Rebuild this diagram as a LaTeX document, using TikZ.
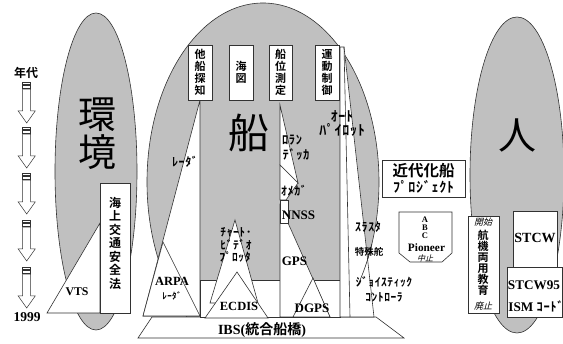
\documentclass[tikz,border=0pt]{standalone}
\usepackage{fontspec}
\newfontfamily\jp[BoldFont={Noto Sans CJK JP Bold}]{Noto Sans CJK JP}
\newfontfamily\jpi[FakeSlant=0.25,BoldFont={Noto Sans CJK JP Bold}]{Noto Sans CJK JP}
\newfontfamily\hk[LetterSpace=5,BoldFont={Noto Sans CJK JP Bold}]{Noto Sans CJK JP}
\newfontfamily\tnr{Liberation Serif}
\definecolor{shade}{RGB}{192,192,192}
\definecolor{edge}{RGB}{50,50,50}
\begin{document}
\begin{tikzpicture}[x=1pt,y=-1pt,
  ol/.style={draw=edge,line width=0.6pt},
  wf/.style={ol,fill=white},
  gf/.style={ol,fill=shade},
  arr/.style={draw=edge,line width=0.5pt,fill=white},
  t/.style={inner sep=0pt,align=center},
  big/.style={t,font=\jp\fontsize{#1}{#1}\selectfont},
  kk/.style={t,font=\hk\bfseries\fontsize{#1}{#1}\selectfont},
  jb/.style={t,font=\jp\bfseries\fontsize{#1}{#1}\selectfont},
  rom/.style={t,font=\tnr\bfseries\fontsize{#1}{#1}\selectfont},
  vtext/.style={t,font=\jp\bfseries\fontsize{11}{12}\selectfont},
  vbox/.style={wf,minimum width=24pt,minimum height=55pt,inner sep=0pt}
]
\useasboundingbox (0,0) rectangle (563,344);
\fill[white] (0,0) rectangle (563,344);

% --- ellipses ---
\draw[gf] (96,171.5) ellipse [x radius=41, y radius=158.5];
\begin{scope}
  \clip (0,0) rectangle (563,338);
  \draw[gf] (263,182) ellipse [x radius=116, y radius=179];
\end{scope}
\draw[gf] (517,175) ellipse [x radius=47, y radius=158];

% --- timeline arrows ---
\foreach \tp in {82,127,173,220,267}{
  \draw[arr] (22.7,\tp) rectangle (30.7,\tp+2.2);
  \draw[arr] (22.7,\tp+3.4) rectangle (30.7,\tp+6);
  \draw[arr] (22.7,\tp+7.2) -- (22.7,\tp+29) -- (18.2,\tp+29) -- (26.7,\tp+41)
     -- (35.2,\tp+29) -- (30.7,\tp+29) -- (30.7,\tp+7.2) -- cycle;
}
\node[jb=12] (nendai) at (26,73) {年代};
\node[rom=13.5] (y1999) at (27,317) {1999};

% --- environment ---
\node[big=38] (kan) at (97,115) {環};
\node[big=38] (kyo) at (97,152) {境};
\draw[wf] (100,223) -- (47,313) -- (100,313) -- cycle;
\node[wf,minimum width=30pt,minimum height=130pt,inner sep=0pt] (lawbox) at (115,248) {};
\node[t,font=\jp\bfseries\fontsize{12}{13.5}\selectfont] (law) at (115,243) {海\\上\\交\\通\\安\\全\\法};
\node[rom=11.8] (vts) at (77,292) {VTS};

% --- IBS base ---
\draw[wf] (152,317) -- (376,317) -- (404,338) -- (138,338) -- cycle;

% --- column 1 : radar ---
\draw[wf] (200,100) -- (143,316) -- (200,316) -- cycle;
\draw[wf] (163,242) -- (143,316) -- (200,316) -- cycle;

% --- lower white block ---
\draw[wf] (200,280) rectangle (340,317);

% --- column 2 : chart ---
\draw[wf] (235,220) -- (210,303) -- (258,303) -- cycle;
\draw[wf] (237,272) -- (205,318) -- (268,318) -- cycle;

% --- column 3 : position ---
\draw[wf] (280,105) -- (280,165) -- (298,183) -- cycle;
\draw[wf] (280,165) -- (298,183) -- (286,200) -- (280,200) -- cycle;
\draw[wf] (280,205) -- (280,317) -- (330,317) -- cycle;
\draw[wf] (280,200) rectangle (288,223);
\draw[wf] (313,278) -- (293,317) -- (330,317) -- cycle;

% --- column 4 : motion control ---
\draw[wf] (340,47) -- (344,47) -- (374,317) -- (340,317) -- cycle;
\draw[ol] (344,47) -- (350,317);
\begin{scope}
  \clip (355,245) rectangle (380,285);
  \draw[ol] (263,182) ellipse [x radius=116, y radius=179];
\end{scope}

% --- top boxes ---
\node[vbox] (b1) at (200,72.5) {};
\node[vbox] (b2) at (241,72.5) {};
\node[vbox,minimum width=23pt] (b3) at (280.5,72.5) {};
\node[vbox] (b4) at (327,72.5) {};
\node[vtext] (b1t) at (b1) {他\\船\\探\\知};
\node[vtext] (b2t) at (b2) {海\\図};
\node[vtext] (b3t) at (b3) {船\\位\\測\\定};
\node[vtext] (b4t) at (b4) {運\\動\\制\\御};

\node[big=41] (fune) at (249,133) {船};

% labels column 1
\node[kk=12] (radar1) at (185,162) {ﾚｰﾀﾞ};
\node[rom=12.5] (arpa) at (172,281) {ARPA};
\node[kk=9] (radar2) at (172,296) {ﾚｰﾀﾞ};
% column 2
\node[kk=11.5] (chart1) at (236,232) {ﾁｬｰﾄ･};
\node[kk=11.5] (chart2) at (236,245) {ﾋﾞﾃﾞｵ};
\node[kk=11.5] (chart3) at (235,257) {ﾌﾟﾛｯﾀ};
\node[rom=12.5] (ecdis) at (239,306) {ECDIS};
% column 3
\node[kk=12.5] (loran) at (292,140) {ﾛﾗﾝ};
\node[kk=12.5] (decca) at (296,155) {ﾃﾞｯｶ};
\node[kk=12] (omega) at (294,191) {ｵﾒｶﾞ};
\node[rom=13] (nnss) at (298.5,215) {NNSS};
\node[rom=13] (gps) at (294.5,261) {GPS};
\node[rom=13] (dgps) at (312,308) {DGPS};
% column 4
\node[kk=14] (auto1) at (342,116) {ｵｰﾄ};
\node[kk=14] (auto2) at (342,130) {ﾊﾟｲﾛｯﾄ};
\node[kk=12] (thr) at (368,227) {ｽﾗｽﾀ};
\node[jb=9.5] (rud) at (369,252) {特殊舵};
\node[kk=11.5] (joy1) at (384,282) {ｼﾞｮｲｽﾃｨｯｸ};
\node[kk=11.5] (joy2) at (384,297) {ｺﾝﾄﾛｰﾗ};

\node[t] (ibs) at (262,330) {\tnr\bfseries\fontsize{14}{14}\selectfont IBS(\jp\bfseries 統合船橋\tnr\bfseries )};

% --- modern ship project ---
\node[wf,minimum width=83pt,minimum height=37pt,inner sep=0pt] (kbox) at (423.5,178.5) {};
\node[jb=15.5] (kin) at (423.5,171) {近代化船};
\node[kk=14] (proj) at (423.5,187) {ﾌﾟﾛｼﾞｪｸﾄ};

\draw[wf] (399,212) -- (452,212) -- (452,253) -- (442,262) -- (410,262) -- (399,253) -- cycle;
\node[rom=8.5] (abcA) at (425,219.5) {A};
\node[rom=8.5] (abcB) at (425,227.5) {B};
\node[rom=8.5] (abcC) at (425,235.5) {C};
\node[rom=11.3] (pio) at (426.5,247.5) {Pioneer};
\node[t,font=\jpi\fontsize{8}{8}\selectfont] (stop1) at (425,258.5) {中止};

% --- human ---
\node[big=38] (hito) at (517,135) {人};
\node[wf,minimum width=31pt,minimum height=97pt,inner sep=0pt] (edubox) at (483.5,264.5) {};
\node[t,font=\jpi\fontsize{9}{9}\selectfont] (kaishi) at (483,222) {開始};
\node[t,font=\jp\bfseries\fontsize{11}{11}\selectfont] (edu) at (483,262.5) {航\\機\\両\\用\\教\\育};
\node[t,font=\jpi\fontsize{9}{9}\selectfont] (haishi) at (483,306) {廃止};

\node[wf,minimum width=44pt,minimum height=57pt,inner sep=0pt] (stcwbox) at (535,239.5) {};
\node[rom=14] (stcw) at (535,238) {STCW};
\node[wf,minimum width=55.7pt,minimum height=50pt,inner sep=0pt] (stcw95box) at (534.85,292) {};
\node[rom=13.2] (stcw95) at (534,285) {STCW95};
\node[t] (ism) at (536,306) {\tnr\bfseries\fontsize{13.2}{13.2}\selectfont ISM \hk\bfseries\fontsize{12.5}{12.5}\selectfont ｺｰﾄﾞ};
\end{tikzpicture}
\end{document}
